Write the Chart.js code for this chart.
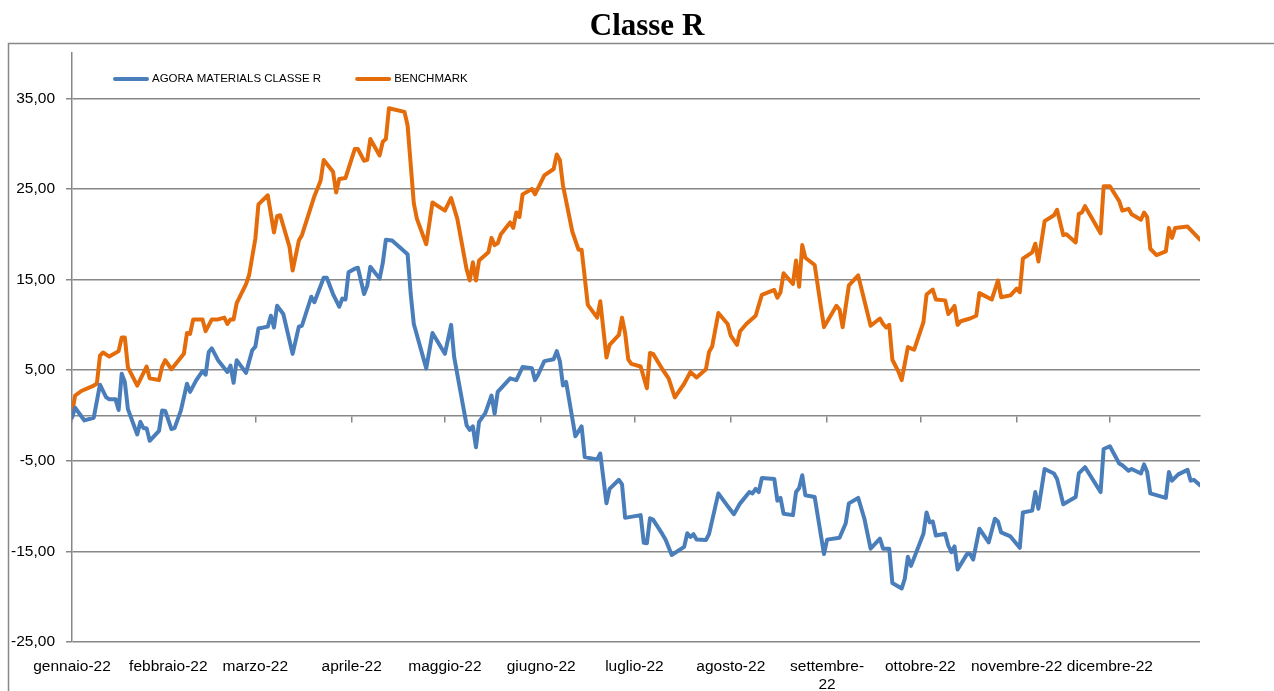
<!DOCTYPE html>
<html lang="it">
<head>
    <meta charset="UTF-8">
    <title>Classe R</title>
    <style>
        body {
            margin: 0;
            padding: 0;
            background: #fff;
        }
        #wrap {
            width: 1274px;
            height: 691px;
        }
    </style>
    <script src="https://cdn.jsdelivr.net/npm/chart.js"></script>
</head>
<body>
    <div id="wrap"><canvas id="chart" width="1274" height="691"></canvas></div>

    <script>
        // day of year 2022 (0 = 1 gennaio) where each month label sits
        const monthStarts = [0, 31, 59, 90, 120, 151, 181, 212, 243, 273, 304, 334];
        const monthLabels = ['gennaio-22', 'febbraio-22', 'marzo-22', 'aprile-22', 'maggio-22', 'giugno-22',
            'luglio-22', 'agosto-22', ['settembre-', '22'], 'ottobre-22', 'novembre-22', 'dicembre-22'];
        const yTicks = [-25, -15, -5, 5, 15, 25, 35];

        // AGORA MATERIALS CLASSE R
        const fundDays = [0,1,4,7,9,11,12,14,15,16,17,18,21,22,23,24,25,28,29,30,32,33,35,37,38,40,42,43,44,45,47,50,51,52,53,56,58,59,60,63,64,65,66,68,71,73,74,77,78,81,82,84,86,87,88,89,91,92,94,95,96,99,100,101,103,108,109,110,114,116,120,122,123,127,128,129,130,131,133,135,136,137,141,143,145,148,149,150,152,155,156,157,158,159,162,164,165,169,170,172,173,176,177,178,183,184,185,186,187,190,191,193,197,198,199,200,201,204,205,208,211,213,215,218,219,220,221,222,226,227,228,229,232,233,234,235,236,239,242,243,247,249,250,253,255,257,260,261,263,264,267,268,269,270,274,275,276,277,278,281,282,283,284,285,288,289,290,292,295,297,298,299,302,305,306,309,310,311,313,316,317,319,323,324,326,331,332,334,337,338,340,341,344,345,346,347,352,353,354,356,359,360,361,363];
        const fundValues = [-0.25,0.85,-0.55,-0.25,3.4,2.0,1.8,1.8,0.6,4.6,3.7,0.7,-2.1,-0.7,-1.4,-1.4,-2.8,-1.7,0.55,0.5,-1.5,-1.4,0.5,3.5,2.6,3.9,4.9,4.5,7.0,7.4,6.1,4.8,5.5,3.6,6.1,4.7,7.2,7.6,9.6,9.8,11.0,9.7,12.1,11.2,6.8,9.8,9.9,13.1,12.5,15.2,15.2,13.4,12.0,12.9,12.8,15.8,16.2,16.3,13.4,14.3,16.4,15.1,16.8,19.4,19.3,17.8,13.4,10.1,5.2,9.1,6.8,10.0,6.4,-1.1,-1.6,-1.2,-3.5,-0.7,0.25,2.2,0.2,2.6,4.1,3.9,5.35,5.2,3.9,4.5,6.0,6.2,7.1,6.0,3.3,3.7,-2.3,-1.2,-4.6,-4.85,-4.2,-9.7,-8.1,-7.1,-7.6,-11.3,-11.0,-14.05,-14.1,-11.35,-11.5,-13.1,-13.7,-15.4,-14.5,-13.0,-13.4,-13.1,-13.7,-13.75,-13.1,-8.6,-10.0,-10.9,-9.7,-8.45,-8.6,-8.1,-8.45,-6.9,-7.0,-9.4,-9.1,-10.85,-11.0,-8.45,-8.0,-6.6,-8.8,-9.0,-15.3,-13.7,-13.5,-11.9,-9.7,-9.1,-11.4,-14.7,-13.6,-14.7,-14.7,-18.5,-19.1,-18.0,-15.6,-16.6,-13.05,-10.7,-11.8,-11.7,-13.25,-13.05,-14.35,-15.1,-14.45,-17.0,-15.3,-15.3,-15.9,-12.5,-14.0,-11.4,-11.7,-12.9,-13.35,-14.6,-10.7,-10.5,-8.45,-10.3,-5.9,-6.4,-7.0,-9.8,-9.0,-6.4,-5.7,-8.45,-3.7,-3.4,-5.3,-5.5,-6.1,-5.9,-6.4,-5.4,-6.25,-8.6,-9.1,-6.25,-7.2,-6.5,-6.0,-7.2,-7.1,-7.7];

        // BENCHMARK
        const benchDays = [0,1,3,7,8,9,10,12,15,16,17,18,21,24,25,28,29,30,32,36,37,38,39,42,43,45,47,49,50,51,52,53,56,57,59,60,63,65,66,67,70,71,73,74,78,80,81,84,85,86,88,91,92,94,95,96,99,100,101,102,107,108,110,111,114,116,120,122,124,127,128,129,130,131,134,135,136,137,138,141,142,143,144,145,148,149,152,155,156,157,158,161,163,164,166,169,170,172,173,176,177,178,179,180,183,185,186,187,190,192,194,197,199,201,204,205,206,208,211,212,214,215,217,220,222,226,227,228,229,232,233,234,235,236,239,241,242,246,247,248,250,253,257,260,261,262,263,264,266,267,269,271,274,275,277,278,281,282,283,284,285,286,289,291,292,296,298,299,302,304,305,306,309,310,311,313,316,317,319,320,323,324,325,326,331,332,334,337,338,340,341,344,345,346,347,349,352,353,354,355,359,363];
        const benchValues = [0.2,2.2,2.7,3.3,3.5,6.6,6.95,6.5,7.1,8.6,8.6,5.3,3.3,5.4,4.1,3.9,5.4,6.1,5.1,6.8,9.1,9.0,10.6,10.6,9.3,10.6,10.6,10.8,10.1,10.6,10.6,12.4,14.5,15.5,19.5,23.3,24.3,20.2,22.0,22.1,18.6,16.0,19.3,19.9,24.2,25.9,28.2,26.9,24.6,26.1,26.2,29.4,29.4,28.1,28.2,30.5,28.7,30.2,30.5,33.9,33.5,32.0,23.4,21.7,18.9,23.5,22.6,24.0,21.7,16.1,14.9,16.9,14.9,17.1,18.0,19.6,18.8,19.0,20.0,21.3,20.7,22.4,21.9,24.4,25.0,24.4,26.5,27.2,28.8,28.2,25.4,20.3,18.3,18.3,12.2,10.8,12.6,6.4,7.8,8.9,10.8,9.1,6.2,5.7,5.4,3.0,6.9,6.8,5.1,4.1,2.0,3.5,4.8,4.2,5.1,7.0,7.6,11.3,10.1,8.8,7.8,9.3,10.1,11.0,13.3,13.85,13.0,13.6,15.7,14.5,17.1,14.2,18.8,17.4,16.6,12.0,9.75,12.1,11.7,9.75,14.35,15.45,9.9,10.7,10.1,9.7,10.0,6.15,4.8,3.9,7.55,7.25,10.3,13.35,13.9,12.8,12.7,11.2,11.6,12.1,10.0,10.4,10.7,11.0,13.5,12.8,14.9,13.05,13.25,14.0,13.6,17.3,18.0,18.95,17.0,21.45,22.1,22.7,19.9,20.0,19.1,22.25,22.4,23.1,20.1,25.3,25.3,23.65,22.6,22.8,22.2,21.6,22.4,21.9,18.4,17.7,18.1,20.7,19.6,20.7,20.85,19.4];

        const gridGrey = '#878787';
        const sansFamily = "'Liberation Sans', Arial, sans-serif";
        const axisFont = { family: sansFamily, size: 15.5 };

        function toPoints(days, values) {
            return days.map((d, i) => ({ x: d, y: values[i] }));
        }

        function monthTicks(scale) {
            scale.ticks = monthStarts.map(v => ({ value: v }));
        }

        // title, outer frame and the in-plot legend (Excel style)
        const chromePlugin = {
            id: 'chrome',
            beforeDraw(chart) {
                const ctx = chart.ctx;
                ctx.save();
                ctx.strokeStyle = gridGrey;
                ctx.lineWidth = 1.5;
                ctx.strokeRect(8.5, 43.5, 1400, 1000);

                ctx.fillStyle = '#000';
                ctx.font = "bold 31px 'Liberation Serif', 'Times New Roman', serif";
                ctx.textAlign = 'center';
                ctx.textBaseline = 'middle';
                ctx.fillText('Classe R', 647, 27);
                ctx.restore();
            },
            beforeDatasetsDraw(chart) {
                const ctx = chart.ctx;
                ctx.save();
                ctx.font = '11.5px ' + sansFamily;
                ctx.textBaseline = 'middle';
                ctx.textAlign = 'left';
                let x = 115;
                const y = 79;
                chart.data.datasets.forEach(ds => {
                    ctx.strokeStyle = ds.borderColor;
                    ctx.lineWidth = 4;
                    ctx.lineCap = 'round';
                    ctx.beginPath();
                    ctx.moveTo(x, y);
                    ctx.lineTo(x + 32, y);
                    ctx.stroke();
                    ctx.fillStyle = '#000';
                    ctx.fillText(ds.label, x + 37, y);
                    x += 37 + ctx.measureText(ds.label).width + 36;
                });
                ctx.restore();
            }
        };

        new Chart(document.getElementById('chart'), {
            type: 'line',
            data: {
                datasets: [
                    {
                        label: 'AGORA MATERIALS CLASSE R',
                        data: toPoints(fundDays, fundValues),
                        borderColor: '#4a7ebb',
                        backgroundColor: '#4a7ebb',
                        borderWidth: 4,
                        borderCapStyle: 'round',
                        borderJoinStyle: 'round',
                        pointRadius: 0,
                        tension: 0
                    },
                    {
                        label: 'BENCHMARK',
                        data: toPoints(benchDays, benchValues),
                        borderColor: '#e46c0a',
                        backgroundColor: '#e46c0a',
                        borderWidth: 4,
                        borderCapStyle: 'round',
                        borderJoinStyle: 'round',
                        pointRadius: 0,
                        tension: 0
                    }
                ]
            },
            options: {
                responsive: false,
                animation: false,
                devicePixelRatio: 1,
                events: [],
                layout: { padding: { left: 0, right: 0, top: 53, bottom: 0 } },
                plugins: {
                    title: { display: false },
                    legend: { display: false },
                    tooltip: { enabled: false }
                },
                scales: {
                    x: {
                        type: 'linear',
                        position: 'bottom',
                        min: 0,
                        max: 363,
                        afterBuildTicks: monthTicks,
                        afterFit: s => { s.height = 49; },
                        grid: { display: false, drawTicks: false },
                        border: { display: false },
                        ticks: {
                            autoSkip: false,
                            maxRotation: 0,
                            minRotation: 0,
                            padding: 15,
                            color: '#000',
                            font: axisFont,
                            callback: (v, i) => monthLabels[i]
                        }
                    },
                    // horizontal axis line through zero, with the month tick marks
                    xZero: {
                        type: 'linear',
                        position: { y: 0 },
                        min: 0,
                        max: 363,
                        afterBuildTicks: monthTicks,
                        grid: { drawOnChartArea: false, drawTicks: true, tickLength: 6, color: gridGrey, lineWidth: 1.5 },
                        border: { display: true, color: gridGrey, width: 1.5 },
                        ticks: { display: false }
                    },
                    y: {
                        type: 'linear',
                        position: 'left',
                        min: -25,
                        max: 40,
                        afterBuildTicks: s => { s.ticks = yTicks.map(v => ({ value: v })); },
                        afterFit: s => { s.width = 72; },
                        grid: { color: gridGrey, lineWidth: 1.5, tickLength: 6 },
                        border: { display: true, color: gridGrey, width: 1.5 },
                        ticks: {
                            padding: 11,
                            color: '#000',
                            font: axisFont,
                            callback: v => v.toFixed(2).replace('.', ',')
                        }
                    },
                    // empty right side so the plot stops where the original does
                    yRight: {
                        type: 'linear',
                        position: 'right',
                        min: -25,
                        max: 40,
                        afterFit: s => { s.width = 74; },
                        grid: { display: false },
                        border: { display: false },
                        ticks: { display: false }
                    }
                }
            },
            plugins: [chromePlugin]
        });
    </script>
</body>
</html>
